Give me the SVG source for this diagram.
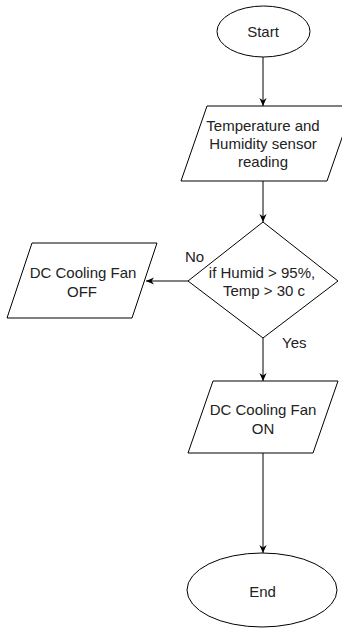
<svg xmlns="http://www.w3.org/2000/svg" width="342" height="628" viewBox="0 0 342 628">
<defs>
<marker id="arr" viewBox="0 0 10 10" refX="10" refY="5" markerWidth="8" markerHeight="8" markerUnits="userSpaceOnUse" orient="auto">
<path d="M0,0.5 L10,5 L0,9.5 L3,5 Z" fill="#000"/>
</marker>
<style>
.s{fill:#fff;stroke:#000;stroke-width:1}
.t{font-family:"Liberation Sans",Arial,sans-serif;font-size:15px;fill:#222;text-anchor:middle}
.l{font-family:"Liberation Sans",Arial,sans-serif;font-size:15px;fill:#222}
.c{fill:none;stroke:#000;stroke-width:1;marker-end:url(#arr)}
</style>
</defs>
<rect width="342" height="628" fill="#fff"/>
<g id="connectors">
<path class="c" d="M263,57 L263,106"/>
<path class="c" d="M263,181 L263,222"/>
<path class="c" d="M188,281 L146,281"/>
<path class="c" d="M263,338 L263,381"/>
<path class="c" d="M263,453 L263,553"/>
<text class="l" x="185" y="262">No</text>
<text class="l" x="282" y="348">Yes</text>
</g>
<g id="start">
<ellipse class="s" cx="263.5" cy="31.5" rx="46.5" ry="25.5"/>
<text class="t" x="263" y="37">Start</text>
</g>
<g id="reading">
<polygon class="s" points="207,106 353,106 327,181 181,181"/>
<text class="t" x="263" y="131">Temperature and</text>
<text class="t" x="263" y="149">Humidity sensor</text>
<text class="t" x="263" y="167">reading</text>
</g>
<g id="decision">
<polygon class="s" points="263,222 338,281 263,338 188,281"/>
<text class="t" x="262" y="278">if Humid &gt; 95%,</text>
<text class="t" x="264" y="296">Temp &gt; 30 c</text>
</g>
<g id="fan-off">
<polygon class="s" points="32,243 157,243 132,318 7,318"/>
<text class="t" x="83" y="278">DC Cooling Fan</text>
<text class="t" x="82" y="297">OFF</text>
</g>
<g id="fan-on">
<polygon class="s" points="213,381 338,381 313,453 188,453"/>
<text class="t" x="263" y="415">DC Cooling Fan</text>
<text class="t" x="263" y="434">ON</text>
</g>
<g id="end">
<ellipse class="s" cx="262" cy="590" rx="75" ry="37"/>
<text class="t" x="262.5" y="597">End</text>
</g>
</svg>
